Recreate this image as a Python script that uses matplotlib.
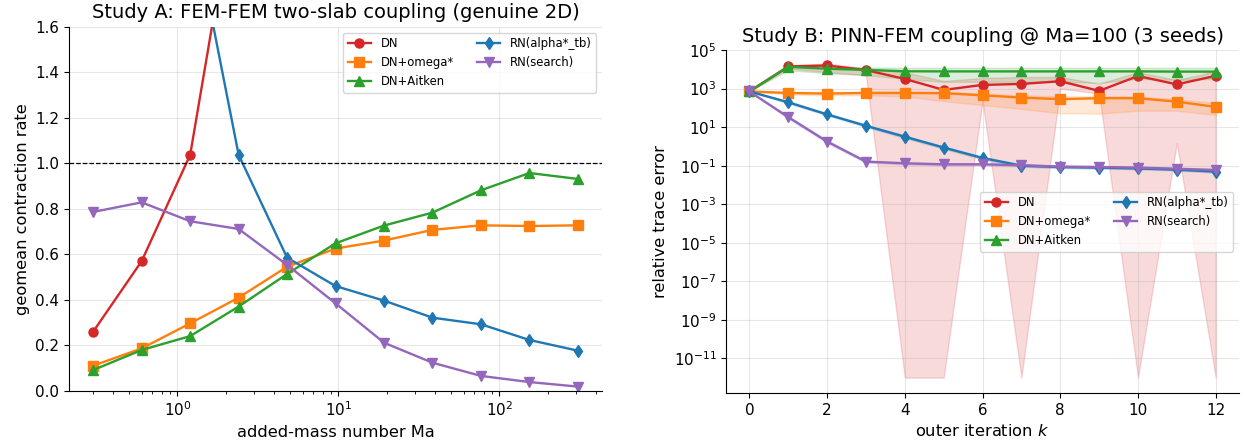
import matplotlib
matplotlib.use('Agg')
import matplotlib.pyplot as plt
import matplotlib.ticker as mticker
import numpy as np

# Study A: contraction rate vs added-mass number
ma = [0.3, 0.6, 1.2, 2.4, 4.8, 9.6, 19.2, 38.4, 76.8, 153.6, 307.2]
a_dn = [0.26, 0.57, 1.037, 2.29, 3.1, 4.0, 5.2, 6.5, 7.8, 9.0, 10.0]  # off-chart past 1.2
a_omega = [0.110, 0.186, 0.296, 0.409, 0.545, 0.625, 0.660, 0.707, 0.727, 0.724, 0.727]
a_aitken = [0.091, 0.179, 0.240, 0.370, 0.513, 0.648, 0.726, 0.783, 0.881, 0.957, 0.931]
a_rn_tb = [3.0, 2.6, 2.12, 1.037, 0.585, 0.460, 0.396, 0.321, 0.292, 0.223, 0.176]
a_rn_search = [0.786, 0.828, 0.745, 0.711, 0.553, 0.384, 0.211, 0.123, 0.065, 0.038, 0.018]

# Study B: trace error vs outer iteration (mean and min/max over seeds)
k = list(range(13))
b_dn = [708, 14100, 15800, 9100, 3160, 850, 1550, 1740, 2400, 760, 4470, 1660, 4570]
b_dn_lo = [708, 11200, 7100, 5000, 1e-12, 1e-12, 224, 1e-12, 1000, 560, 1e-12, 1.5, 1e-12]
b_dn_hi = [708, 15800, 20000, 11200, 7100, 2500, 3550, 4000, 4000, 1780, 7100, 2800, 7900]
b_omega = [708, 590, 550, 590, 590, 575, 447, 339, 282, 316, 316, 209, 112]
b_omega_lo = [708, 500, 447, 447, 398, 224, 141, 89, 52, 50, 71, 71, 43]
b_omega_hi = [708, 708, 660, 708, 708, 708, 562, 447, 398, 398, 398, 282, 178]
b_aitken = [708, 13500, 10700, 9300, 7900, 7800, 7800, 7800, 7800, 7800, 7800, 7600, 7600]
b_aitken_lo = [708, 8900, 6300, 5000, 3160, 2240, 2240, 2240, 2240, 2000, 3160, 2800, 3160]
b_aitken_hi = [708, 15800, 14100, 12600, 12000, 12000, 12000, 12000, 12000, 12000, 12000, 12000, 12000]
b_rn_tb = [708, 195, 45.7, 11.7, 3.16, 0.87, 0.25, 0.10, 0.085, 0.079, 0.072, 0.062, 0.049]
b_rn_tb_lo = [708, 170, 40, 10, 2.7, 0.74, 0.21, 0.088, 0.075, 0.07, 0.064, 0.055, 0.043]
b_rn_tb_hi = [708, 225, 52, 13.5, 3.7, 1.0, 0.29, 0.115, 0.097, 0.09, 0.082, 0.071, 0.056]
b_rn_search = [708, 33, 1.78, 0.162, 0.132, 0.117, 0.117, 0.105, 0.089, 0.085, 0.079, 0.069, 0.059]
b_rn_search_lo = [708, 28, 1.5, 0.14, 0.115, 0.10, 0.10, 0.09, 0.077, 0.074, 0.069, 0.06, 0.051]
b_rn_search_hi = [708, 38, 2.1, 0.185, 0.15, 0.135, 0.135, 0.12, 0.10, 0.097, 0.09, 0.079, 0.068]

labels = ['DN', 'DN+omega*', 'DN+Aitken', 'RN(alpha*_tb)', 'RN(search)']
colors = ['tab:red', 'tab:orange', 'tab:green', 'tab:blue', 'tab:purple']
markers = ['o', 's', '^', 'd', 'v']

plt.rcParams['xtick.labelsize'] = 10.9
plt.rcParams['ytick.labelsize'] = 10.9
plt.rcParams['axes.labelsize'] = 11.7
plt.rcParams['axes.titlesize'] = 14
plt.rcParams['legend.fontsize'] = 8.4

fig = plt.figure(figsize=(12.46, 4.46), dpi=100)
ax1 = fig.add_axes([0.0554, 0.124, 0.4278, 0.816])
ax2 = fig.add_axes([0.5827, 0.1188, 0.4117, 0.769])

# left panel
series_a = [a_dn, a_omega, a_aitken, a_rn_tb, a_rn_search]
for vals, lab, c, m in zip(series_a, labels, colors, markers):
    ax1.plot(ma, vals, marker=m, color=c, label=lab, lw=1.7, ms=6.5)
ax1.axhline(1.0, color='black', ls='--', lw=0.9)
ax1.set_xscale('log')
ax1.set_ylim(0, 1.6)
ax1.set_yticks(np.arange(0, 1.61, 0.2))
ax1.set_xlabel('added-mass number Ma')
ax1.set_ylabel('geomean contraction rate')
ax1.set_title('Study A: FEM-FEM two-slab coupling (genuine 2D)')
ax1.grid(True, which='major', alpha=0.3)
ax1.legend(loc='upper right', ncol=2)

# right panel: min/max band over seeds, then the mean curve
series_b = [(b_dn, b_dn_lo, b_dn_hi), (b_omega, b_omega_lo, b_omega_hi),
            (b_aitken, b_aitken_lo, b_aitken_hi), (b_rn_tb, b_rn_tb_lo, b_rn_tb_hi),
            (b_rn_search, b_rn_search_lo, b_rn_search_hi)]
for (vals, lo, hi), c in zip(series_b, colors):
    ax2.fill_between(k, lo, hi, color=c, alpha=0.17)
for (vals, lo, hi), lab, c, m in zip(series_b, labels, colors, markers):
    ax2.plot(k, vals, marker=m, color=c, label=lab, lw=1.7, ms=6.5)
ax2.set_yscale('log')
ax2.set_ylim(10**-12.8, 1e5)
ax2.set_xlim(-0.6, 12.6)
ax2.yaxis.set_major_locator(mticker.FixedLocator([10.0**e for e in range(-11, 6, 2)]))
ax2.yaxis.set_minor_locator(mticker.NullLocator())
ax2.set_xticks(range(0, 13, 2))
ax2.set_xlabel('outer iteration $k$')
ax2.set_ylabel('relative trace error')
ax2.set_title('Study B: PINN-FEM coupling @ Ma=100 (3 seeds)')
ax2.grid(True, which='major', alpha=0.3)
ax2.legend(loc='center right', ncol=2)

for ax in (ax1, ax2):
    ax.spines['top'].set_visible(False)
    ax.spines['right'].set_visible(False)

fig.savefig('out.png', dpi=100)
